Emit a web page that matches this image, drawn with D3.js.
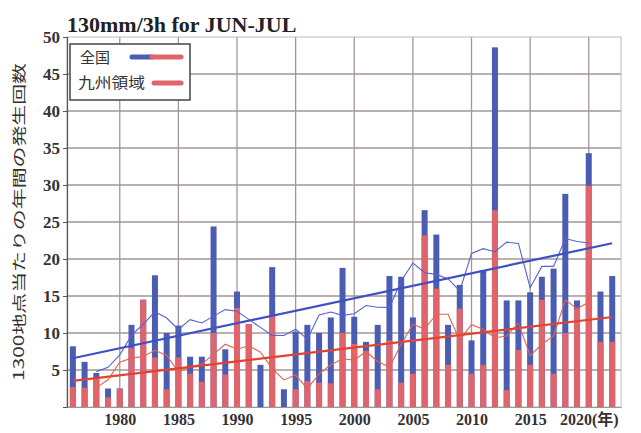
<!DOCTYPE html>
<html>
<head>
<meta charset="utf-8">
<script src="https://cdn.jsdelivr.net/npm/d3@7"></script>
<style>
  html, body { margin: 0; padding: 0; background: #fff; }
  svg { display: block; }
</style>
</head>
<body>
<svg id="chart" width="641" height="433"></svg>
<script>
// Annual occurrences of 130mm/3h rainfall in June-July (per 1300 stations)
const years = d3.range(1976, 2023);
const nationwide = [
  8.2, 6.1, 4.6, 2.5, 2.5, 11.1, 14.5, 17.8, 10.0, 11.0,
  6.8, 6.8, 24.4, 7.8, 15.6, 11.2, 5.7, 18.9, 2.4, 10.2,
  11.1, 10.0, 12.1, 18.8, 12.2, 8.8, 11.1, 17.7, 17.6, 12.1,
  26.6, 23.3, 11.1, 16.5, 9.0, 18.5, 48.6, 14.4, 14.4, 15.5,
  17.6, 18.7, 28.8, 14.4, 34.3, 15.6, 17.7
];
const kyushu = [
  2.7, 2.6, 4.0, 1.3, 2.5, 8.0, 14.5, 6.7, 2.4, 6.7,
  4.5, 3.4, 10.0, 4.4, 13.4, 11.2, 0.0, 12.4, 0.0, 2.4,
  3.5, 3.3, 3.2, 10.0, 8.5, 7.6, 2.4, 9.0, 3.3, 4.5,
  23.2, 16.0, 5.7, 13.3, 4.5, 5.7, 26.6, 2.3, 7.7, 5.7,
  14.5, 4.5, 10.0, 13.3, 29.9, 8.8, 8.8
];
const yTicks = [5, 10, 15, 20, 25, 30, 35, 40, 45, 50];
const xTicks = [1980, 1985, 1990, 1995, 2000, 2005, 2010, 2015, 2020];
const seriesNames = ["全国", "九州領域"];

const BLUE = "#4b5cb3", RED = "#e0646c";
const BLUE_LINE = "#3f4fc4", RED_LINE = "#e2432f";

const svg = d3.select("#chart");
const plotL = 67, plotR = 621, plotT = 37, plotB = 407;

const x = d3.scaleLinear().domain([1975.5, 2022.75]).range([plotL, plotR]);
const y = d3.scaleLinear().domain([0, 50]).range([plotB, plotT]);

// grid
const grid = svg.append("g");
grid.selectAll("line.h").data(yTicks.filter(v => v < 50)).join("line")
  .attr("class", "h")
  .attr("x1", plotL).attr("x2", plotR)
  .attr("y1", d => y(d)).attr("y2", d => y(d))
  .attr("stroke", "#a49696").attr("stroke-width", 1.3);
grid.selectAll("line.v").data(xTicks).join("line")
  .attr("class", "v")
  .attr("x1", d => x(d)).attr("x2", d => x(d))
  .attr("y1", plotT).attr("y2", plotB)
  .attr("stroke", "#a49696").attr("stroke-width", 1.3);
svg.append("rect").attr("x", plotL).attr("y", plotT)
  .attr("width", plotR - plotL).attr("height", plotB - plotT)
  .attr("fill", "none").attr("stroke", "#bbb").attr("stroke-width", 1);

// bars: nationwide total behind, Kyushu part in front from zero
const bw = 6;
svg.append("g").selectAll("rect").data(years).join("rect")
  .attr("x", d => x(d) - bw / 2).attr("width", bw)
  .attr("y", (d, i) => y(nationwide[i]))
  .attr("height", (d, i) => y(0) - y(nationwide[i]))
  .attr("fill", BLUE);
svg.append("g").selectAll("rect").data(years).join("rect")
  .attr("x", d => x(d) - bw / 2).attr("width", bw)
  .attr("y", (d, i) => y(kyushu[i]))
  .attr("height", (d, i) => y(0) - y(kyushu[i]))
  .attr("fill", RED);

// 5-year centred running mean
function runningMean(vals) {
  const out = [];
  for (let i = 2; i < vals.length - 2; i++) {
    out.push([years[i], d3.mean(vals.slice(i - 2, i + 3))]);
  }
  return out;
}
// least-squares trend
function trend(vals) {
  const mx = d3.mean(years), my = d3.mean(vals);
  let sxy = 0, sxx = 0;
  years.forEach((t, i) => { sxy += (t - mx) * (vals[i] - my); sxx += (t - mx) ** 2; });
  const b = sxy / sxx;
  return [years[0], years[years.length - 1]].map(t => [t, my + b * (t - mx)]);
}
const line = d3.line().x(d => x(d[0])).y(d => y(d[1]));

svg.append("path").datum(runningMean(nationwide)).attr("d", line)
  .attr("fill", "none").attr("stroke", "#5563cf").attr("stroke-width", 1.1);
svg.append("path").datum(runningMean(kyushu)).attr("d", line)
  .attr("fill", "none").attr("stroke", "#e6624f").attr("stroke-width", 1.1);
svg.append("path").datum(trend(nationwide)).attr("d", line)
  .attr("fill", "none").attr("stroke", BLUE_LINE).attr("stroke-width", 2.2);
svg.append("path").datum(trend(kyushu)).attr("d", line)
  .attr("fill", "none").attr("stroke", RED_LINE).attr("stroke-width", 2.2);

// axes
const yAxis = d3.axisLeft(y).tickValues(yTicks).tickSize(4).tickPadding(3);
const gy = svg.append("g").attr("transform", `translate(${plotL},0)`).call(yAxis);
gy.select(".domain").attr("stroke", "#555").attr("stroke-width", 1.2);
gy.selectAll(".tick line").attr("stroke", "#555");
gy.selectAll(".tick text")
  .attr("font-family", "'Liberation Serif', serif").attr("font-weight", "bold")
  .attr("font-size", 17).attr("fill", "#333");

const xAxis = d3.axisBottom(x).tickValues(xTicks).tickSize(0).tickPadding(7)
  .tickFormat(d => d === 2020 ? "2020(年)" : String(d));
const gx = svg.append("g").attr("transform", `translate(0,${plotB})`).call(xAxis);
gx.select(".domain").attr("stroke", "#999");
gx.selectAll(".tick text")
  .attr("font-family", "'Liberation Serif', 'Noto Sans CJK JP', serif").attr("font-weight", "bold")
  .attr("font-size", 16).attr("fill", "#333");

// title
svg.append("text").attr("x", 67).attr("y", 32)
  .attr("font-family", "'Liberation Serif', serif").attr("font-weight", "bold")
  .attr("font-size", 22).attr("fill", "#222")
  .text("130mm/3h for JUN-JUL");

// y label
svg.append("text")
  .attr("transform", "translate(24,222) rotate(-90)")
  .attr("text-anchor", "middle")
  .attr("font-family", "'Noto Sans CJK JP', sans-serif")
  .attr("font-size", 14).attr("fill", "#333")
  .attr("textLength", 318).attr("lengthAdjust", "spacingAndGlyphs")
  .text("1300地点当たりの年間の発生回数");

// legend
const lg = svg.append("g");
lg.append("rect").attr("x", 70).attr("y", 44).attr("width", 120).attr("height", 56)
  .attr("fill", "#fff").attr("stroke", "#444").attr("stroke-width", 1.5);
lg.append("text").attr("x", 80).attr("y", 63).text(seriesNames[0])
  .attr("font-family", "'Noto Sans CJK JP', sans-serif").attr("font-size", 15).attr("fill", "#333");
lg.append("text").attr("x", 78).attr("y", 88).text(seriesNames[1])
  .attr("font-family", "'Noto Sans CJK JP', sans-serif").attr("font-size", 15).attr("fill", "#333")
  .attr("textLength", 67).attr("lengthAdjust", "spacingAndGlyphs");
lg.append("line").attr("x1", 132).attr("x2", 152).attr("y1", 57).attr("y2", 57)
  .attr("stroke", BLUE).attr("stroke-width", 5).attr("stroke-linecap", "round");
lg.append("line").attr("x1", 152).attr("x2", 181).attr("y1", 57).attr("y2", 57)
  .attr("stroke", RED).attr("stroke-width", 5).attr("stroke-linecap", "round");
lg.append("line").attr("x1", 154).attr("x2", 181).attr("y1", 83).attr("y2", 83)
  .attr("stroke", RED).attr("stroke-width", 5).attr("stroke-linecap", "round");
</script>
</body>
</html>
